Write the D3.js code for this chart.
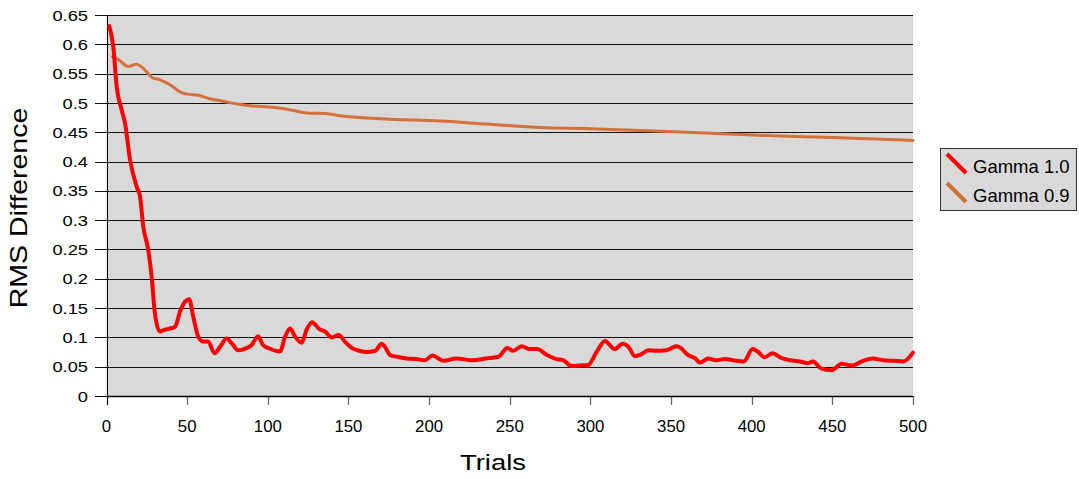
<!DOCTYPE html>
<html><head><meta charset="utf-8">
<script src="https://cdn.jsdelivr.net/npm/d3@7"></script>
<style>
body{margin:0;background:#fff}
svg{display:block}
text{font-family:"Liberation Sans",Arial,Helvetica,sans-serif;fill:#000}
</style>
</head><body>
<svg id="chart" width="1079" height="479"></svg>
<script>
// ---- data ----
const seriesNames = ["Gamma 1.0", "Gamma 0.9"];
const seriesColors = ["#ff0000", "#d4713a"];

const gamma10Trials = [1.7,4.2,6.3,9.4,11.5,14.6,18.7,20.8,22.8,25.9,28,30,33,36,39,42.5,45.6,48.7,51.3,53.8,56.9,60,63,67,70.4,74.5,77.6,81.7,86,90,94,97,101,107.6,110.7,113.8,117,121,124,127.5,132,135.5,139.6,144,148,152,157,161,166.5,170.6,172.6,175.8,180,186,192,197.5,202,209,217,227,235,243,248.5,252,257.4,262.5,267,273,279,283,288.4,293.5,298.7,304,309,315,320,323.5,327.6,330.7,336,341,347,353.5,356,360,365,368,373,378,383.5,388.6,395,400.6,404,408,413,417.5,424,430,435,438,443,449.5,455.7,462,469,475,481.6,488,494,500];
const gamma10Values = [0.631,0.596,0.528,0.488,0.465,0.403,0.357,0.340,0.289,0.249,0.203,0.141,0.110,0.113,0.115,0.118,0.144,0.161,0.165,0.135,0.101,0.093,0.093,0.073,0.084,0.098,0.090,0.078,0.081,0.087,0.102,0.087,0.081,0.076,0.101,0.115,0.101,0.091,0.113,0.126,0.114,0.110,0.100,0.104,0.092,0.082,0.077,0.075,0.077,0.089,0.084,0.070,0.067,0.064,0.063,0.061,0.069,0.060,0.064,0.061,0.064,0.067,0.082,0.077,0.085,0.080,0.080,0.070,0.063,0.061,0.051,0.052,0.053,0.076,0.094,0.080,0.089,0.084,0.068,0.070,0.078,0.077,0.078,0.085,0.082,0.071,0.064,0.057,0.064,0.061,0.063,0.061,0.059,0.080,0.075,0.066,0.073,0.066,0.061,0.059,0.056,0.059,0.047,0.044,0.055,0.052,0.060,0.064,0.061,0.060,0.059,0.074];

const gamma09Trials = [3.8,7.3,13.5,18.5,22.8,28,33.5,39.4,45.6,50,57,64,72,81,89,97,108,116,124,136,145,170,207,240,269,300,331,360,413,450,500];
const gamma09Values = [0.579,0.574,0.562,0.566,0.559,0.544,0.539,0.531,0.519,0.515,0.513,0.507,0.503,0.498,0.495,0.494,0.491,0.487,0.483,0.482,0.478,0.473,0.469,0.463,0.458,0.456,0.453,0.450,0.444,0.441,0.436];

const xTicks = [0,50,100,150,200,250,300,350,400,450,500];
const yTicks = [0,0.05,0.1,0.15,0.2,0.25,0.3,0.35,0.4,0.45,0.5,0.55,0.6,0.65];
const yTickLabels = ["0","0.05","0.1","0.15","0.2","0.25","0.3","0.35","0.4","0.45","0.5","0.55","0.6","0.65"];
const xTitle = "Trials";
const yTitle = "RMS Difference";

// ---- drawing ----
const svg = d3.select("#chart");
const x = d3.scaleLinear().domain([0, 500]).range([106.5, 913]);
const y = d3.scaleLinear().domain([0, 0.65]).range([396, 15]);
const crisp = v => Math.round(v) + 0.5;

function stext(sel, str, tx, ty, size, sx, rot, anchor) {
  return sel.append("text")
    .attr("transform", `translate(${tx},${ty}) rotate(${rot||0}) scale(${sx},1)`)
    .attr("text-anchor", anchor || "start")
    .style("font-size", size + "px")
    .text(str);
}

// plot background
svg.append("rect")
  .attr("x", x(0)).attr("y", y(0.65))
  .attr("width", x(500) - x(0)).attr("height", y(0) - y(0.65))
  .attr("fill", "#d9d9d9");

// gridlines + y ticks
const grid = svg.append("g");
yTicks.forEach(t => {
  grid.append("line")
    .attr("x1", 95).attr("x2", x(500))
    .attr("y1", crisp(y(t))).attr("y2", crisp(y(t)))
    .attr("stroke", t === 0 ? "#000" : "#111").attr("stroke-width", 1);
});

// x ticks
xTicks.forEach(t => {
  svg.append("line")
    .attr("x1", crisp(x(t))).attr("x2", crisp(x(t)))
    .attr("y1", y(0)).attr("y2", y(0) + 9)
    .attr("stroke", "#666").attr("stroke-width", 1.3);
});

// left axis
svg.append("line")
  .attr("x1", crisp(x(0))).attr("x2", crisp(x(0)))
  .attr("y1", y(0.65)).attr("y2", y(0) + 9)
  .attr("stroke", "#000").attr("stroke-width", 1);
// bottom axis
svg.append("line")
  .attr("x1", x(0)).attr("x2", x(500))
  .attr("y1", crisp(y(0))).attr("y2", crisp(y(0)))
  .attr("stroke", "#000").attr("stroke-width", 1.3);

// tick labels
const lab = svg.append("g");
yTicks.forEach((t, i) => {
  stext(lab, yTickLabels[i], 88, y(t) + 5.6, 15.5, 1.18, 0, "end");
});
xTicks.forEach(t => {
  stext(lab, String(t), x(t), 432, 16, 1.05, 0, "middle");
});

// titles
stext(svg, xTitle, 493, 470, 22.5, 1.22, 0, "middle");
stext(svg, yTitle, 27, 208, 23, 1.24, -90, "middle");

// series
const line = d3.line().x(d => x(d[0])).y(d => y(d[1])).curve(d3.curveMonotoneX);
const s10 = gamma10Trials.map((t, i) => [t, gamma10Values[i]]);
const s09 = gamma09Trials.map((t, i) => [t, gamma09Values[i]]);
svg.append("path").datum(s09).attr("d", line)
  .attr("fill", "none").attr("stroke", seriesColors[1]).attr("stroke-width", 3)
  .attr("stroke-linejoin", "round").attr("stroke-linecap", "round");
svg.append("path").datum(s10).attr("d", line)
  .attr("fill", "none").attr("stroke", seriesColors[0]).attr("stroke-width", 4)
  .attr("stroke-linejoin", "round").attr("stroke-linecap", "round");

// legend
const lg = svg.append("g");
lg.append("rect").attr("x", 940.5).attr("y", 148.5).attr("width", 136).attr("height", 62)
  .attr("fill", "#d9d9d9").attr("stroke", "#333").attr("stroke-width", 1);
seriesNames.forEach((name, i) => {
  const oy = i * 29;
  lg.append("line")
    .attr("x1", 947).attr("y1", 154 + oy).attr("x2", 966).attr("y2", 173 + oy)
    .attr("stroke", seriesColors[i]).attr("stroke-width", 4);
  stext(lg, name, 973, 172.5 + oy, 18.5, 1.0, 0, "start");
});
</script>
</body></html>
